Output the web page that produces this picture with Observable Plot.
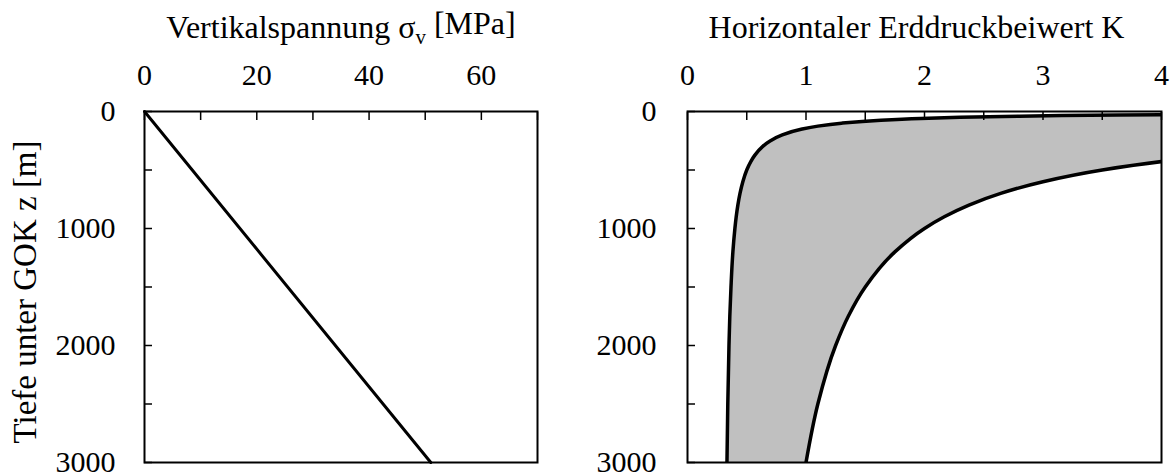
<!DOCTYPE html>
<html><head><meta charset="utf-8">
<script src="https://cdn.jsdelivr.net/npm/d3@7"></script>
<script src="https://cdn.jsdelivr.net/npm/@observablehq/plot@0.6"></script>
<style>
body{margin:0;background:#fff;}
#wrap{display:flex;width:1171px;height:473px;overflow:hidden;}
</style></head><body><div id="wrap"></div>
<script>
// ---- data ----
const depthTicks = [0, 500, 1000, 1500, 2000, 2500, 3000];
const depthLabels = [0, 1000, 2000, 3000];
const sigmaTicks = [0, 10, 20, 30, 40, 50, 60, 70];
const sigmaLabels = [0, 20, 40, 60];
const kTicks = [0, 0.5, 1, 1.5, 2, 2.5, 3, 3.5, 4];
const kLabels = [0, 1, 2, 3, 4];

const sigmaDepth = [0, 3000];
const sigmaV = [0, 51];

const kDepth = [25, 30, 35, 40, 50, 60, 75, 100, 125, 150, 200, 250, 300, 375, 428, 500, 600, 700, 800, 900, 1000, 1200, 1500, 1750, 2000, 2500, 3000];
const kMin =   [4.30, 3.633, 3.157, 2.80, 2.30, 1.967, 1.633, 1.30, 1.10, 0.967, 0.80, 0.70, 0.633, 0.567, 0.534, 0.50, 0.467, 0.443, 0.425, 0.411, 0.40, 0.383, 0.367, 0.357, 0.35, 0.34, 0.333];
const kMax =   [60.5, 50.5, 43.4, 38.0, 30.5, 25.5, 20.5, 15.5, 12.5, 10.5, 8.0, 6.5, 5.5, 4.5, 4.0, 3.5, 3.0, 2.643, 2.375, 2.167, 2.0, 1.75, 1.5, 1.357, 1.25, 1.10, 1.0];

const titleLeft = "Vertikalspannung σv [MPa]";
const titleRight = "Horizontaler Erddruckbeiwert K";
const yLabel = "Tiefe unter GOK z [m]";

const fillGray = "#c0c0c0";
const font = "'Liberation Serif', 'Times New Roman', serif";

const sigmaData = sigmaDepth.map((z, i) => ({z, s: sigmaV[i]}));
const kData = kDepth.map((z, i) => ({z, lo: kMin[i], hi: kMax[i]}));

function commonY() {
  return {domain: [0, 3000], reverse: true, axis: null};
}
function axesMarks(xTicks, xLabels, yPad) {
  return [
    Plot.axisX(xTicks, {anchor: "top", tickSize: -8, tickFormat: () => "", label: null, strokeWidth: 1.5}),
    Plot.axisX(xLabels, {anchor: "top", tickSize: 0, tickPadding: 27, tickFormat: d => String(d), label: null, fontSize: 30}),
    Plot.axisY(depthTicks, {anchor: "left", tickSize: -8, tickFormat: () => "", label: null, strokeWidth: 1.5}),
    Plot.axisY(depthLabels, {anchor: "left", tickSize: 0, tickPadding: yPad, tickFormat: d => String(d), label: null, fontSize: 30})
  ];
}

const left = Plot.plot({
  width: 585, height: 473,
  marginLeft: 144, marginRight: 48, marginTop: 111, marginBottom: 11,
  style: {fontFamily: font, fontSize: "30px", color: "black", background: "white"},
  x: {domain: [0, 70], axis: null},
  y: commonY(),
  marks: [
    Plot.line(sigmaData, {x: "s", y: "z", stroke: "black", strokeWidth: 3}),
    ...axesMarks(sigmaTicks, sigmaLabels, 29),
    Plot.frame({stroke: "black", strokeWidth: 2}),
    Plot.text([titleLeft], {frameAnchor: "top", dy: -84, lineAnchor: "middle", textAnchor: "middle", fontSize: 32, text: d => d}),
    Plot.text([yLabel], {frameAnchor: "left", dx: -119, dy: 5, rotate: -90, lineAnchor: "middle", textAnchor: "middle", fontSize: 33, text: d => d})
  ]
});

const right = Plot.plot({
  width: 586, height: 473,
  marginLeft: 102, marginRight: 10, marginTop: 111, marginBottom: 11,
  style: {fontFamily: font, fontSize: "30px", color: "black", background: "white"},
  x: {domain: [0, 4], axis: null},
  y: commonY(),
  marks: [
    Plot.areaX(kData, {x1: "lo", x2: "hi", y: "z", fill: fillGray, curve: "monotone-y", clip: true}),
    Plot.line(kData, {x: "lo", y: "z", stroke: "black", strokeWidth: 3.5, curve: "monotone-y", clip: true}),
    Plot.line(kData.filter(d => d.hi <= 4.6), {x: "hi", y: "z", stroke: "black", strokeWidth: 3.5, curve: "monotone-y", clip: true}),
    ...axesMarks(kTicks, kLabels, 31),
    Plot.frame({stroke: "black", strokeWidth: 2}),
    Plot.text([titleRight], {frameAnchor: "top", dy: -84, dx: -8, lineAnchor: "middle", textAnchor: "middle", fontSize: 32, text: d => d})
  ]
});

document.getElementById("wrap").append(left, right);

// subscript v in sigma_v
d3.select(left).selectAll("text").filter(function() { return this.textContent === titleLeft; })
  .each(function() {
    const t = d3.select(this);
    t.text(null);
    t.append("tspan").text("Vertikalspannung σ");
    t.append("tspan").attr("dy", "0.3em").attr("font-size", "0.65em").text("v");
    t.append("tspan").attr("dy", "-0.3em").text(" [MPa]");
  });
</script></body></html>
